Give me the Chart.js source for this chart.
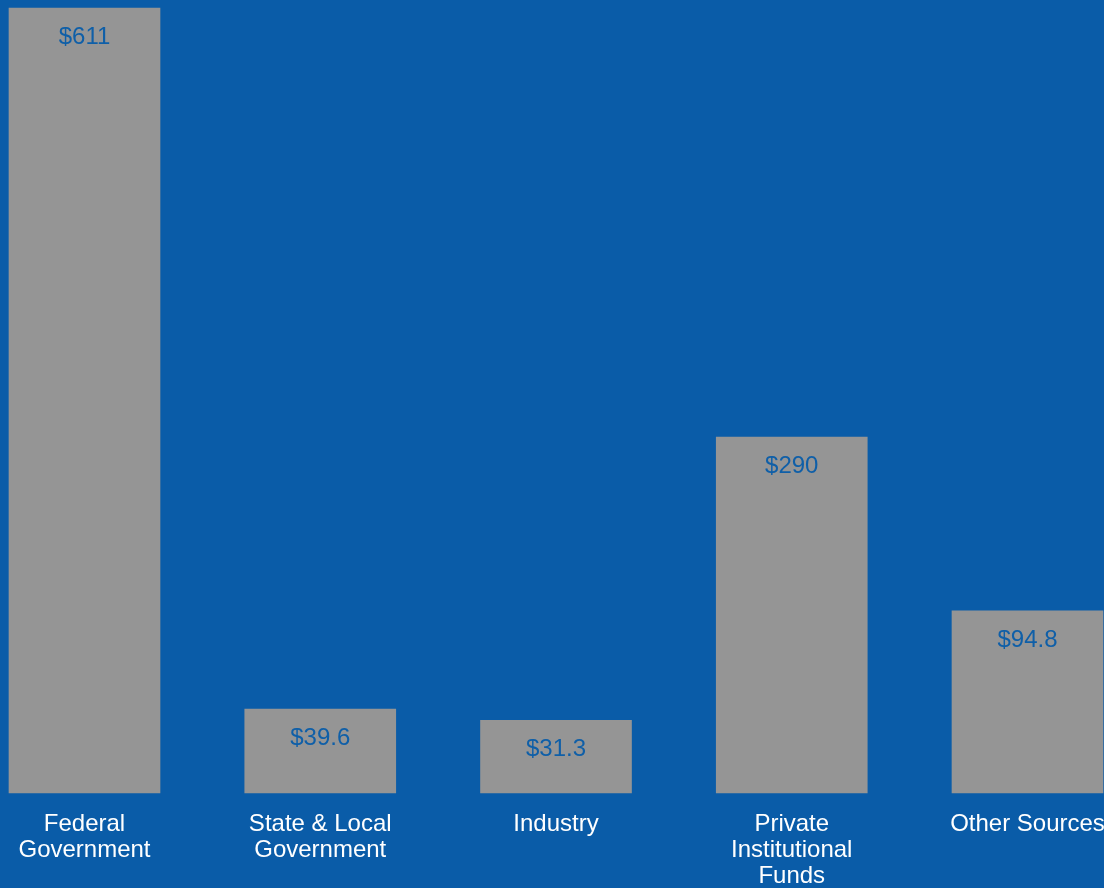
<!DOCTYPE html>
<html>
<head>
<meta charset="utf-8">
<script src="https://cdn.jsdelivr.net/npm/chart.js@4/dist/chart.umd.min.js"></script>
<style>
  html, body { margin: 0; padding: 0; background: #0a5ca8; }
  #wrap { width: 1104px; height: 888px; position: relative; }
</style>
</head>
<body>
<div id="wrap"><canvas id="c"></canvas></div>
<script>
// Categories (multi-line labels as shown under the bars)
const categories = [
  ["Federal", "Government"],
  ["State & Local", "Government"],
  ["Industry"],
  ["Private", "Institutional", "Funds"],
  ["Other Sources"]
];
// Bar heights as drawn in the picture (scaled so the tallest bar = 611)
const barHeights = [611, 65.4, 56.6, 277.1, 141.7];
// Value labels printed inside the bars
const valueLabels = ["$611", "$39.6", "$31.3", "$290", "$94.8"];

const FONT = "'Liberation Sans', Arial, Helvetica, sans-serif";

const insideLabels = {
  id: 'insideLabels',
  afterDatasetsDraw(chart) {
    const ctx = chart.ctx;
    const meta = chart.getDatasetMeta(0);
    ctx.save();
    ctx.font = "24px " + FONT;
    ctx.fillStyle = "#0f5fa8";
    ctx.textAlign = "center";
    ctx.textBaseline = "middle";
    meta.data.forEach((bar, i) => {
      ctx.fillText(valueLabels[i], bar.x, bar.y + 29);
    });
    ctx.restore();
  }
};

new Chart(document.getElementById('c'), {
  type: 'bar',
  data: {
    labels: categories,
    datasets: [{
      data: barHeights,
      backgroundColor: '#959595',
      borderWidth: 0,
      barThickness: 151,
      clip: false
    }]
  },
  options: {
    responsive: true,
    maintainAspectRatio: false,
    animation: false,
    layout: { padding: { top: 8, left: 84.5, right: 76.5, bottom: 0 } },
    plugins: { legend: { display: false }, tooltip: { enabled: false } },
    scales: {
      x: {
        offset: false,
        grid: { display: false, drawTicks: false },
        border: { display: false },
        ticks: {
          color: '#ffffff',
          font: { family: FONT, size: 24, lineHeight: 1.09 },
          padding: 18,
          maxRotation: 0,
          minRotation: 0,
          autoSkip: false
        },
        afterFit(scale) {
          scale.paddingLeft = 0;
          scale.paddingRight = 0;
          scale.height = 95;
        }
      },
      y: {
        display: false,
        min: 0,
        max: 611
      }
    }
  },
  plugins: [insideLabels]
});
</script>
</body>
</html>
